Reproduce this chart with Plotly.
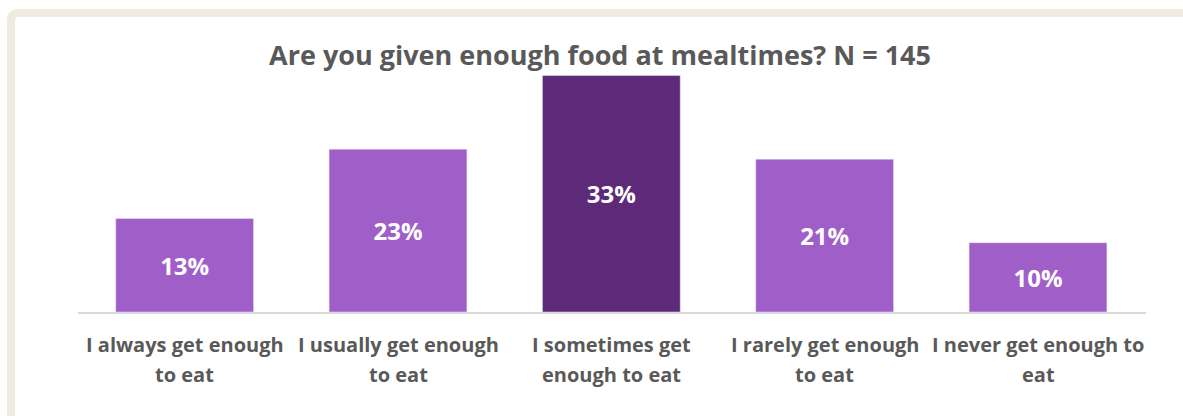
import plotly.graph_objects as go

categories = ["I always get enough<br>to eat", "I usually get enough<br>to eat",
              "I sometimes get<br>enough to eat", "I rarely get enough<br>to eat",
              "I never get enough to<br>eat"]
values = [13.1, 22.8, 33.1, 21.4, 9.7]
labels = ["13%", "23%", "33%", "21%", "10%"]
colors = ["#A05FC8", "#A05FC8", "#5C2A78", "#A05FC8", "#A05FC8"]

W, H = 1183, 416
L, R, T, B = 78, 37, 62, 104
pw, ph = W - L - R, H - T - B

def px(x):
    return (x - L) / pw

def py(y):
    return (H - B - y) / ph

FONT = "Open Sans"
GREY = "#595959"

fig = go.Figure(go.Bar(
    x=categories, y=values, text=labels, marker_color=colors,
    textposition="inside", insidetextanchor="middle",
    textfont=dict(family=FONT, size=24, color="white", weight="bold"),
    width=0.646, hoverinfo="skip"))

annotations = []
for cat in categories:
    for i, line in enumerate(cat.split("<br>")):
        annotations.append(dict(
            x=cat, xref="x", y=py(344 + 30 * i), yref="paper",
            text=line, showarrow=False, xanchor="center", yanchor="middle",
            font=dict(family=FONT, size=20, color=GREY, weight="bold")))

frame = (f"M {px(11)},{py(440)} L {px(11)},{py(21)} Q {px(11)},{py(13)} {px(19)},{py(13)} "
         f"L {px(1210)},{py(13)}")

fig.update_layout(
    width=W, height=H, margin=dict(l=L, r=R, t=T, b=B),
    paper_bgcolor="white", plot_bgcolor="white",
    font=dict(family=FONT, color=GREY),
    title=dict(text="<b>Are you given enough food at mealtimes? N = 145</b>",
               x=600 / W, xanchor="center", y=1 - 56 / H, yanchor="middle",
               font=dict(family=FONT, size=27, color=GREY)),
    xaxis=dict(showline=True, linecolor="#D9D9D9", linewidth=2, ticks="",
               showticklabels=False),
    yaxis=dict(visible=False, range=[0, 35]),
    showlegend=False,
    annotations=annotations,
    shapes=[dict(type="path", xref="paper", yref="paper", path=frame,
                 line=dict(color="#EEEBE0", width=8), layer="below")],
)

fig.write_html("out.html")
